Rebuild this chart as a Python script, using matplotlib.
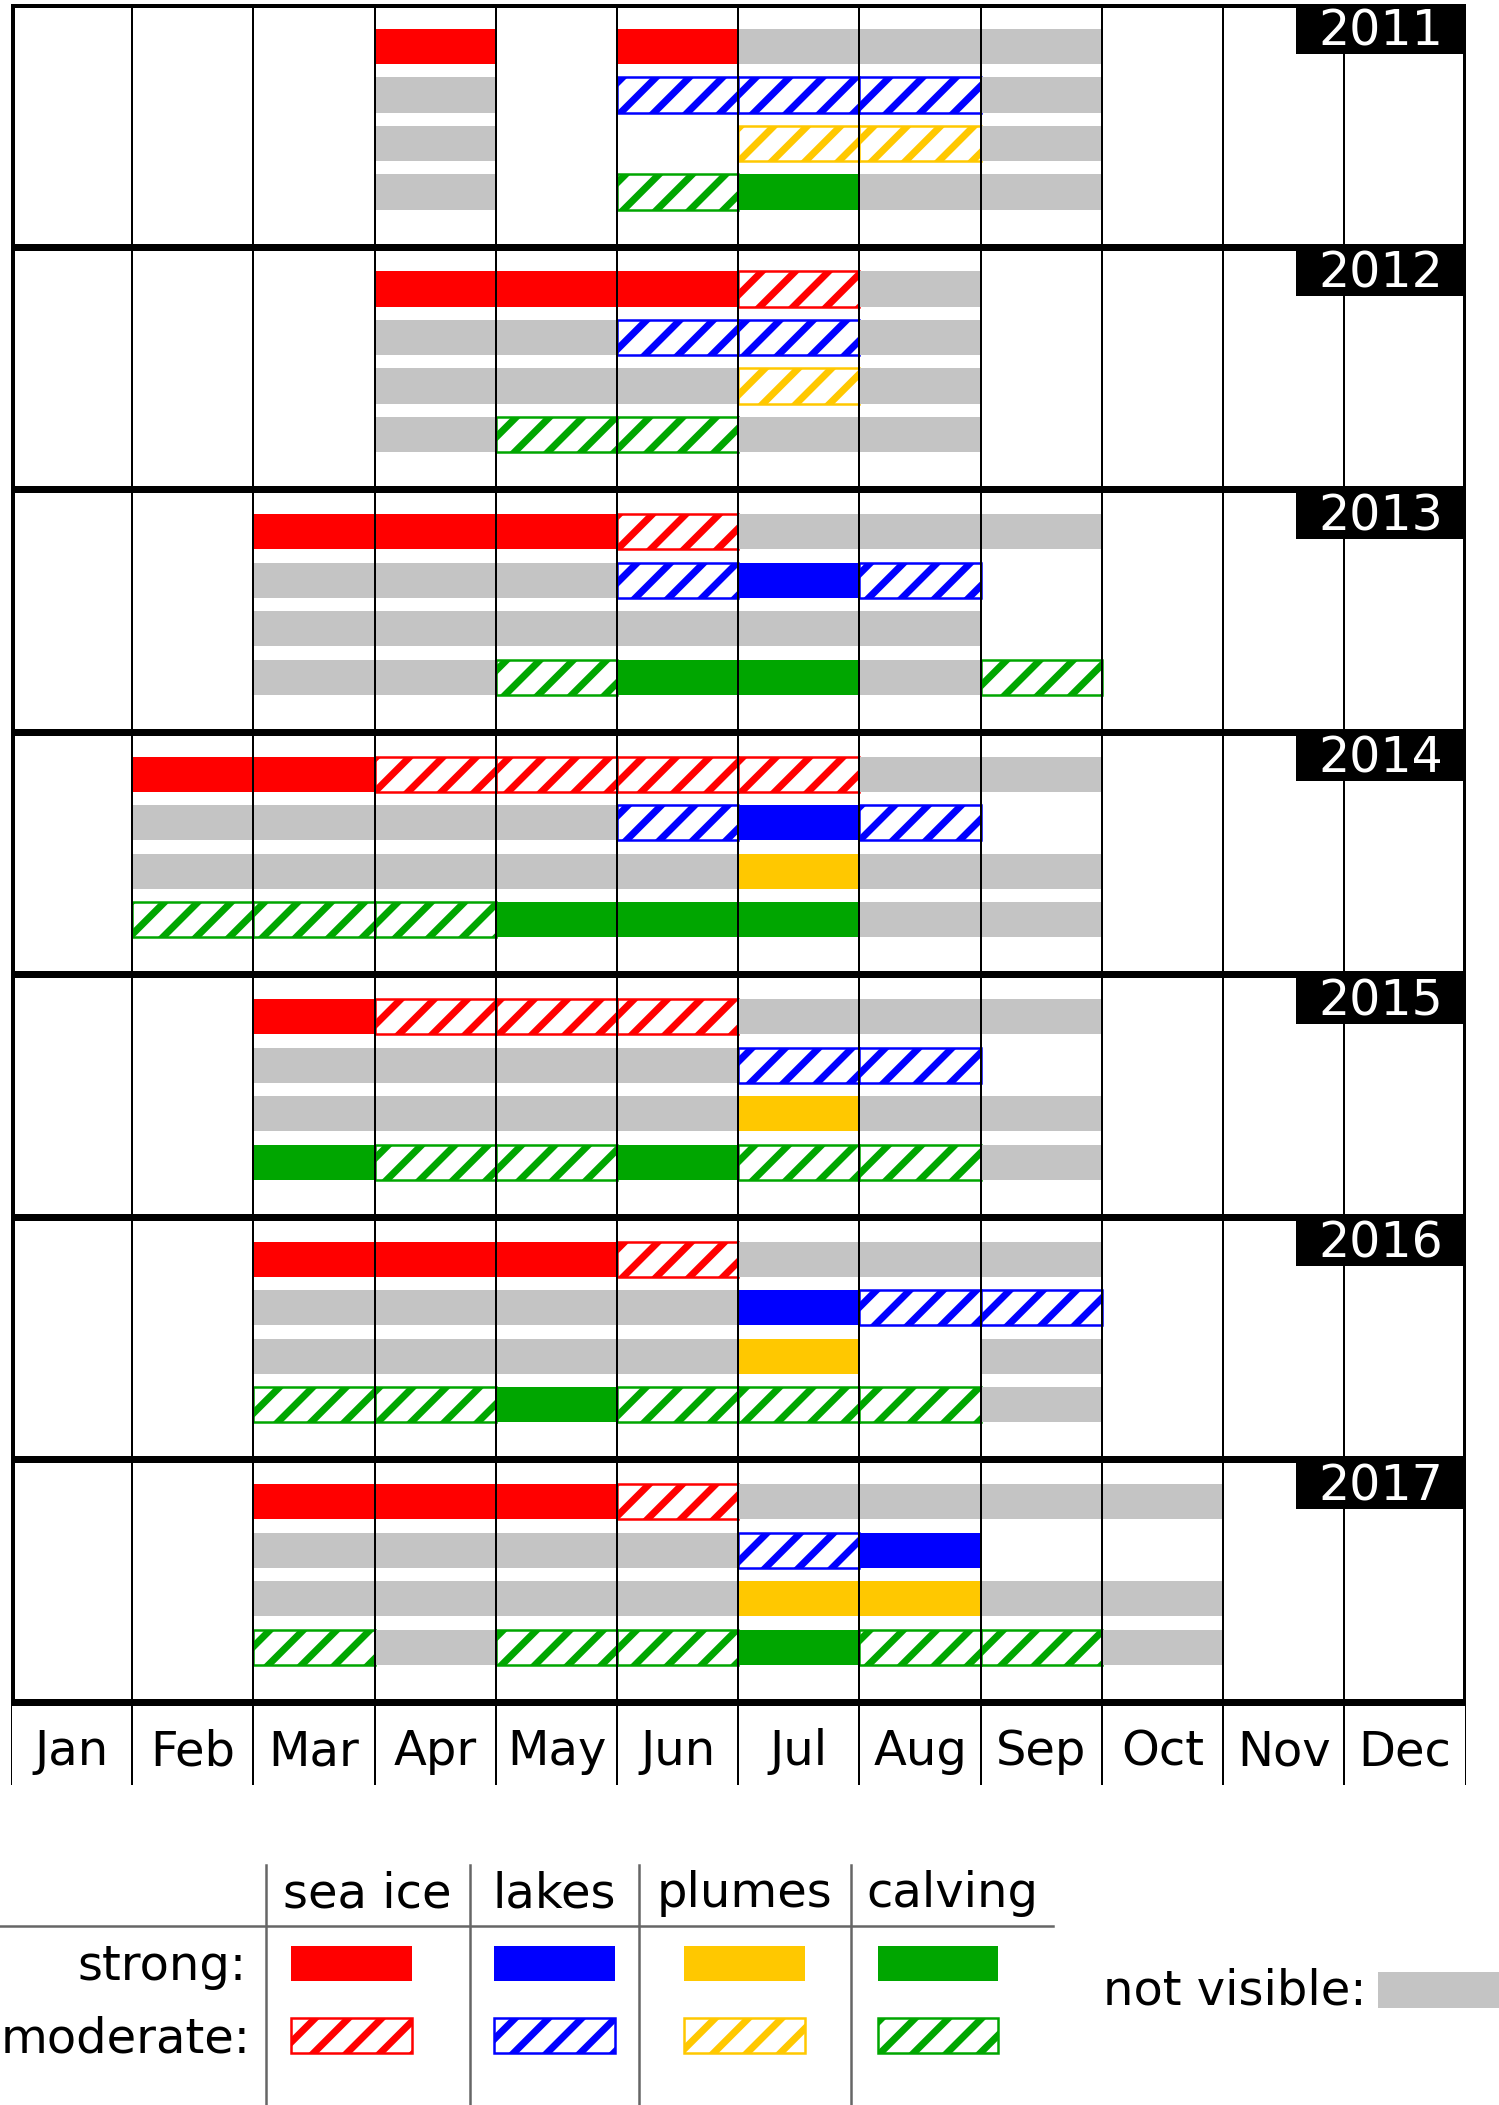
import matplotlib
matplotlib.use("Agg")
import matplotlib.pyplot as plt
from matplotlib.patches import Rectangle

# one string per year, one character per month:
# S = strong, M = moderate, N = not visible, . = nothing
years = ["2011", "2012", "2013", "2014", "2015", "2016", "2017"]
months = ["Jan", "Feb", "Mar", "Apr", "May", "Jun",
          "Jul", "Aug", "Sep", "Oct", "Nov", "Dec"]

sea_ice = ["...S.SNNN...",
           "...SSSMN....",
           "..SSSMNNN...",
           ".SSMMMMNN...",
           "..SMMMNNN...",
           "..SSSMNNN...",
           "..SSSMNNNN.."]
lakes = ["...N.MMMN...",
         "...NNMMN....",
         "..NNNMSM....",
         ".NNNNMSM....",
         "..NNNNMM....",
         "..NNNNSMM...",
         "..NNNNMS...."]
plumes = ["...N..MMN...",
          "...NNNMN....",
          "..NNNNNN....",
          ".NNNNNSNN...",
          "..NNNNSNN...",
          "..NNNNS.N...",
          "..NNNNSSNN.."]
calving = ["...N.MSNN...",
           "...NMMNN....",
           "..NNMSSNM...",
           ".MMMSSSNN...",
           "..SMMSMMN...",
           "..MMSMMMN...",
           "..MNMMSMMN.."]

categories = ["sea ice", "lakes", "plumes", "calving"]
series = [sea_ice, lakes, plumes, calving]
colors = ["#ff0000", "#0000ff", "#ffc800", "#00a600"]
gray = "#c4c4c4"

DPI = 100


def pt(px):
    # pixel size -> points at the output dpi
    return px * 72.0 / DPI


HATCH_LW = pt(7)
plt.rcParams["hatch.linewidth"] = HATCH_LW
plt.rcParams["font.family"] = "DejaVu Sans"


def hatched(xy, w, h, color, target):
    rect = Rectangle(xy, w, h, facecolor="white", edgecolor=color,
                     hatch="/", lw=pt(2.5), zorder=1)
    if hasattr(rect, "set_hatch_linewidth"):
        rect.set_hatch_linewidth(HATCH_LW)
    target.add_patch(rect)


W, H = 1499, 2105
fig = plt.figure(figsize=(W / DPI, H / DPI), dpi=DPI)

# main grid axes: x in months, y in panels (0 top .. 7 bottom)
x0, x1 = 11, 1465.5
y_top, y_grid_bot, y_tick_bot = 4, 1701.6, 1785
panel_px = (y_grid_bot - y_top) / len(years)
y_extra = (y_tick_bot - y_grid_bot) / panel_px
ax = fig.add_axes([x0 / W, 1 - y_tick_bot / H, (x1 - x0) / W, (y_tick_bot - y_top) / H])
ax.set_xlim(0, 12)
ax.set_ylim(len(years) + y_extra, 0)
ax.axis("off")

bar_top, bar_h, pitch = 0.103, 0.146, 0.2

for p, year in enumerate(years):
    for r, ser in enumerate(series):
        codes = ser[p]
        y = p + bar_top + r * pitch
        for m, c in enumerate(codes):
            if c == "S":
                ax.add_patch(Rectangle((m, y), 1, bar_h, facecolor=colors[r],
                                       edgecolor="none", zorder=1))
            elif c == "M":
                hatched((m, y), 1, bar_h, colors[r], ax)
            elif c == "N":
                ax.add_patch(Rectangle((m, y), 1, bar_h, facecolor=gray,
                                       edgecolor="none", zorder=1))
    # year label box
    ax.add_patch(Rectangle((10.605, p), 1.395, 0.205, facecolor="black",
                           edgecolor="none", zorder=4))
    ax.text(11.3, p + 0.112, year, color="white", fontsize=pt(49),
            ha="center", va="center", zorder=5)

# thin month lines, running through the tick area below
for m in range(1, 12):
    ax.plot([m, m], [0, len(years) + y_extra], color="black", lw=pt(2),
            zorder=2, solid_capstyle="butt")
for m in [0, 12]:
    ax.plot([m, m], [len(years), len(years) + y_extra], color="black", lw=pt(2),
            zorder=2, solid_capstyle="butt")

# thick panel borders
for p in range(len(years) + 1):
    ax.plot([0, 12], [p, p], color="black", lw=pt(7), zorder=3,
            solid_capstyle="projecting")
for xb in [0, 12]:
    ax.plot([xb, xb], [0, len(years)], color="black", lw=pt(7), zorder=3,
            solid_capstyle="projecting")

for m, name in enumerate(months):
    ax.text(m + 0.5, len(years) + 0.207, name, fontsize=pt(48),
            ha="center", va="center")

# legend table, in shrunk-pixel units of the bottom area
lg = fig.add_axes([0, 0, 1, (2105 - 1380 * 1.342) / H])
lg.set_xlim(0, 1117)
lg.set_ylim(1568, 1380)
lg.axis("off")

col_edges = [198, 350, 476, 634, 785]
swatch_left = [217, 368, 510, 654]
sw_w, sw_h = 90, 26
line_col = "#666666"
fs_leg = pt(48)

for xe in col_edges[:-1]:
    lg.plot([xe, xe], [1390, 1568], color=line_col, lw=pt(2.5))
lg.plot([0, col_edges[-1]], [1435, 1435], color=line_col, lw=pt(2.5))

for i, name in enumerate(categories):
    cx = (col_edges[i] + col_edges[i + 1]) / 2
    lg.text(cx, 1411, name, fontsize=fs_leg, ha="center", va="center")
    lg.add_patch(Rectangle((swatch_left[i], 1450), sw_w, sw_h,
                           facecolor=colors[i], edgecolor="none"))
    hatched((swatch_left[i], 1503), sw_w, sw_h, colors[i], lg)

lg.text(184, 1465, "strong:", fontsize=fs_leg, ha="right", va="center")
lg.text(187, 1519, "moderate:", fontsize=fs_leg, ha="right", va="center")
lg.text(1018, 1483, "not visible:", fontsize=fs_leg, ha="right", va="center")
lg.add_patch(Rectangle((1027, 1469), 95, 27, facecolor=gray,
                       edgecolor="none", clip_on=False))

fig.savefig("out.png", dpi=DPI)
